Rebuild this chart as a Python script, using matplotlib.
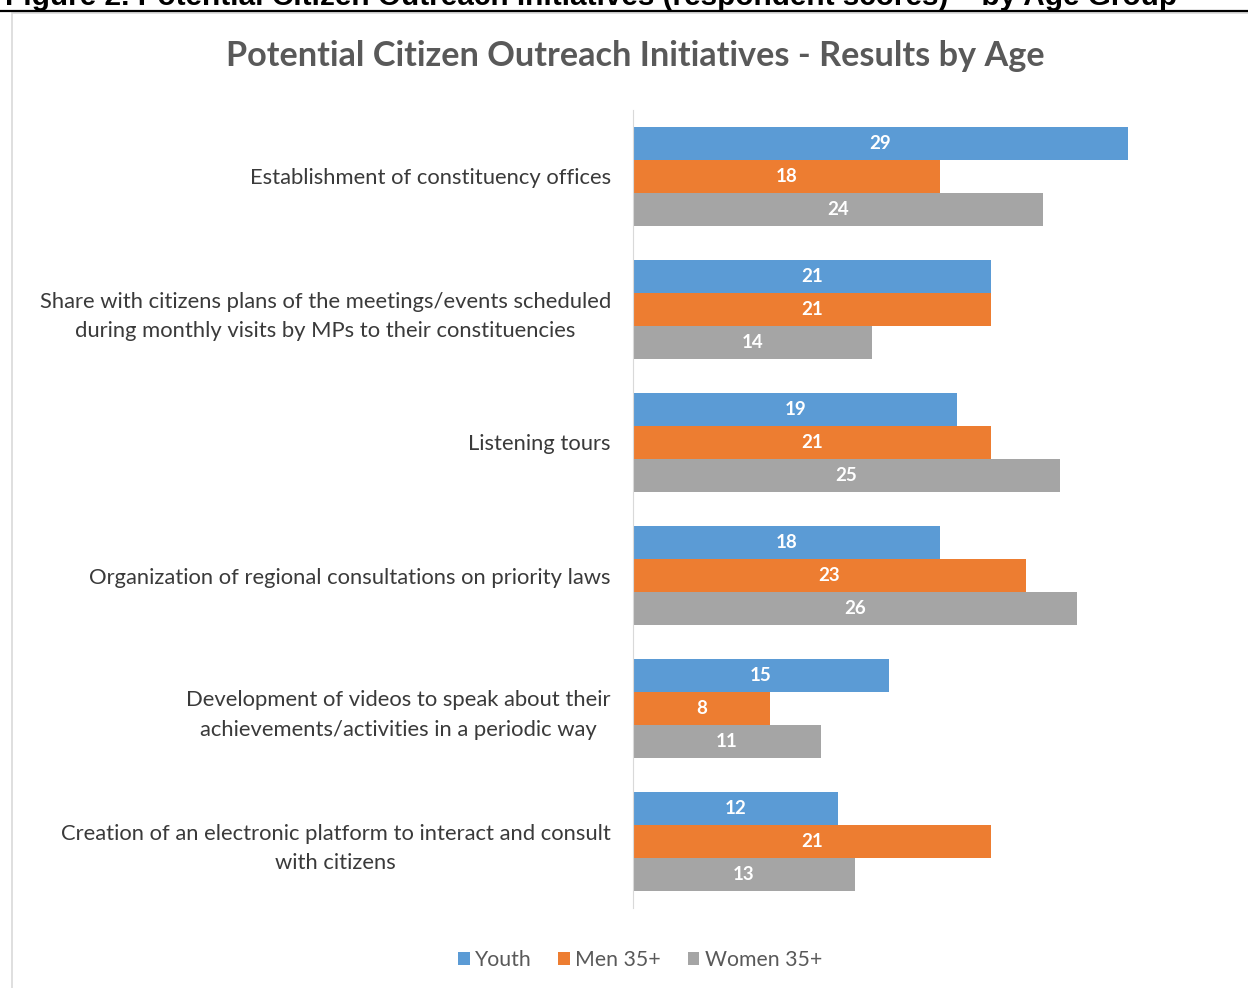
import matplotlib.pyplot as plt
from matplotlib.patches import Rectangle
from matplotlib.lines import Line2D

categories = [
    'Establishment of constituency offices',
    'Share with citizens plans of the meetings/events scheduled\nduring monthly visits by MPs to their constituencies',
    'Listening tours',
    'Organization of regional consultations on priority laws',
    'Development of videos to speak about their\nachievements/activities in a periodic way',
    'Creation of an electronic platform to interact and consult\nwith citizens',
]
youth = [29, 21, 19, 18, 15, 12]
men35 = [18, 21, 21, 23, 8, 21]
women35 = [24, 14, 25, 26, 11, 13]

series = [('Youth', youth, '#5B9BD5'),
          ('Men 35+', men35, '#ED7D31'),
          ('Women 35+', women35, '#A5A5A5')]

plt.rcParams['font.family'] = ['Lato', 'DejaVu Sans']

W, H = 1248, 988
fig = plt.figure(figsize=(W / 100, H / 100), dpi=100)

# caption above the chart (partly cut by the page edge) and its rule
fig.text(5 / W, 1 - 5 / H, 'Figure 2. Potential Citizen Outreach Initiatives (respondent scores) \u2013 by Age Group',
         family='Liberation Sans', weight='bold', fontsize=21.4, va='baseline', ha='left', color='black')
fig.add_artist(Line2D([0, 1], [1 - 11 / H, 1 - 11 / H], transform=fig.transFigure, color='black', lw=1.6))
# chart frame
fig.add_artist(Rectangle((12 / W, -0.1), 1.2, 1 - 13 / H + 0.1, transform=fig.transFigure,
                         fill=False, edgecolor='#D9D9D9', lw=1.2))

ax = fig.add_axes([633 / W, (H - 908) / H, 512 / W, 798 / H])

h = 0.25
for i, (name, vals, col) in enumerate(series):
    ys = [k + (i - 1) * h for k in range(len(categories))]
    bars = ax.barh(ys, vals, height=h, color=col, label=name)
    for b, v in zip(bars, vals):
        ax.text(v / 2, b.get_y() + h / 2, str(v), ha='center', va='center',
                color='white', weight='bold', fontsize=13.5)

ax.set_xlim(0, 30)
ax.set_ylim(len(categories) - 0.5, -0.5)
ax.set_xticks([])
ax.set_yticks(range(len(categories)))
ax.set_yticklabels(categories, fontsize=15.8, color='#3A3A3A', multialignment='center', linespacing=1.62)
ax.tick_params(axis='y', length=0, pad=16)
for s in ['top', 'right', 'bottom']:
    ax.spines[s].set_visible(False)
ax.spines['left'].set_color('#D9D9D9')

fig.text(635 / W, 1 - 56 / H, 'Potential Citizen Outreach Initiatives - Results by Age',
         ha='center', va='center', fontsize=24.7, weight='bold', color='#595959')

handles, labels = ax.get_legend_handles_labels()
leg = fig.legend(handles, labels, loc='center', bbox_to_anchor=(640 / W, (H - 960) / H), ncol=3,
                 frameon=False, fontsize=15.3, handlelength=0.55, handleheight=0.55,
                 handletextpad=0.25, columnspacing=1.25)
for t in leg.get_texts():
    t.set_color('#595959')

fig.savefig('out.png', dpi=100, facecolor='white')
